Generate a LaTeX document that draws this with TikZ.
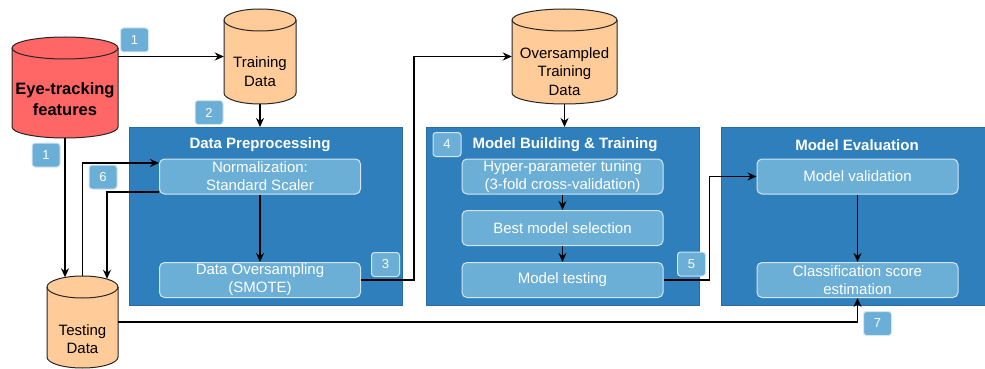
\documentclass[tikz,border=0pt]{standalone}
\usepackage{fontspec}
\setmainfont{Liberation Sans}
\usetikzlibrary{arrows.meta,calc}

\definecolor{panelblue}{HTML}{2F7FBC}
\definecolor{stepblue}{HTML}{6BAED6}
\definecolor{dbred}{HTML}{FF6666}
\definecolor{dborange}{HTML}{FFCC99}

\tikzset{
  panel/.style={fill=panelblue, draw=panelblue!85!black, line width=0.6pt, inner sep=0},
  stepbox/.style={fill=stepblue, draw=white!70!stepblue, line width=1pt, rounded corners=5pt,
    text=white, align=center, font=\fontsize{15}{18}\selectfont, inner sep=0,
    minimum width=201pt, minimum height=35pt},
  badge/.style={fill=stepblue, draw=white!70!stepblue, line width=1pt, rounded corners=3pt,
    text=white, font=\fontsize{13}{13}\selectfont, minimum width=28pt, minimum height=24pt, inner sep=0},
  paneltitle/.style={text=white, font=\bfseries\fontsize{15}{18}\selectfont, inner sep=0},
  dbtext/.style={align=center, text=black, font=\fontsize{15}{18.5}\selectfont, inner sep=0},
  dbbold/.style={font=\bfseries\fontsize{16.5}{21}\selectfont},
  flow/.style={draw=black, line width=1.5pt, -{Stealth[length=9pt,width=8pt]}},
}

% database cylinder: name, left, right, top, bottom, fill, label options, text
\newcommand\dbcyl[8]{%
  \pgfmathsetmacro\dbrx{(#3-#2)/2}%
  \pgfmathsetmacro\dbw{#3-#2}%
  \pgfmathsetmacro\dbh{#5-#4}%
  \filldraw[fill=#6, draw=black!85, line width=1pt]
    (#2,#4+11) -- (#2,#5-11)
    arc[start angle=180, end angle=0, x radius=\dbrx, y radius=11]
    -- (#3,#4+11)
    arc[start angle=0, end angle=-180, x radius=\dbrx, y radius=11] -- cycle;
  \draw[black!85, line width=1pt] (#2,#4+11)
    arc[start angle=180, end angle=0, x radius=\dbrx, y radius=11];
  \node[inner sep=0, minimum width=\dbw pt, minimum height=\dbh pt,
        label={[dbtext, #7]center:#8}]
    (#1) at ({(#2+#3)/2},{(#4+#5)/2}) {};
}

\begin{document}
\begin{tikzpicture}[x=1pt, y=-1pt]
\useasboundingbox (0,0) rectangle (985,369);

% panels
\node[panel, anchor=north west, minimum width=273pt, minimum height=178pt] (prep) at (129,127) {};
\node[panel, anchor=north west, minimum width=273pt, minimum height=178pt] (mbt) at (426,127) {};
\node[panel, anchor=north west, minimum width=266pt, minimum height=178pt] (eval) at (721,127) {};

\node[paneltitle] (tprep) at (260,145) {Data Preprocessing};
\node[paneltitle] (tmbt) at (565,145) {Model Building \& Training};
\node[paneltitle] (teval) at (857,145) {Model Evaluation};

% steps
\node[stepbox] (norm) at (260,176.5) {Normalization:\\Standard Scaler};
\node[stepbox] (smote) at (260,280) {Data Oversampling\\(SMOTE)};
\node[stepbox] (hyper) at (562.5,176.5) {Hyper-parameter tuning\\(3-fold cross-validation)};
\node[stepbox] (best) at (562.5,228) {Best model selection};
\node[stepbox] (mtest) at (562.5,280) {Model testing};
\node[stepbox] (mval) at (857.5,176.5) {Model validation};
\node[stepbox] (cls) at (857.5,280) {Classification score\\estimation};

% data stores
\dbcyl{eye}{12}{118}{37}{138}{dbred}{dbbold, yshift=-12pt}{Eye-tracking\\features}
\dbcyl{tr}{224}{296}{9}{104}{dborange}{yshift=-15pt}{Training\\Data}
\dbcyl{os}{512}{617}{9}{104}{dborange}{yshift=-15pt}{Oversampled\\Training\\Data}
\dbcyl{test}{47}{118}{276}{368}{dborange}{yshift=-17pt}{Testing\\Data}

% connectors
\draw[flow] (eye.east |- tr.west) -- (tr.west);
\draw[flow] (tr.south) -- (tr.south |- prep.north);
\draw[flow] (eye.south) -- ($(eye.south |- test.north)+(0,1.5)$);
\draw[flow] (test.north) |- ($(norm.west)+(0,-13.5)$);
\draw[flow] ($(norm.west)+(0,15.5)$) -| ($(test.north)+(24.5,3)$);
\draw[flow] (norm) -- (smote);
\draw[flow] (smote.east) -- ++(53,0) |- (os.west);
\draw[flow] (os.south) -- (os.south |- mbt.north);
\draw[flow] (hyper) -- (best);
\draw[flow] (best) -- (mtest);
\draw[flow] (mtest.east) -- ++(46,0) |- (mval.west);
\draw[flow] (mval) -- (cls);
\draw[flow] (test.east) -| (cls.south);

% step numbers
\node[badge] (b1a) at (134.5,40) {1};
\node[badge] (b1b) at (46,155) {1};
\node[badge] (b2) at (209,112.5) {2};
\node[badge] (b3) at (385.5,264.5) {3};
\node[badge] (b4) at (447,144.5) {4};
\node[badge] (b5) at (691.5,264) {5};
\node[badge] (b6) at (103,177) {6};
\node[badge] (b7) at (877.5,323.5) {7};
\end{tikzpicture}
\end{document}
